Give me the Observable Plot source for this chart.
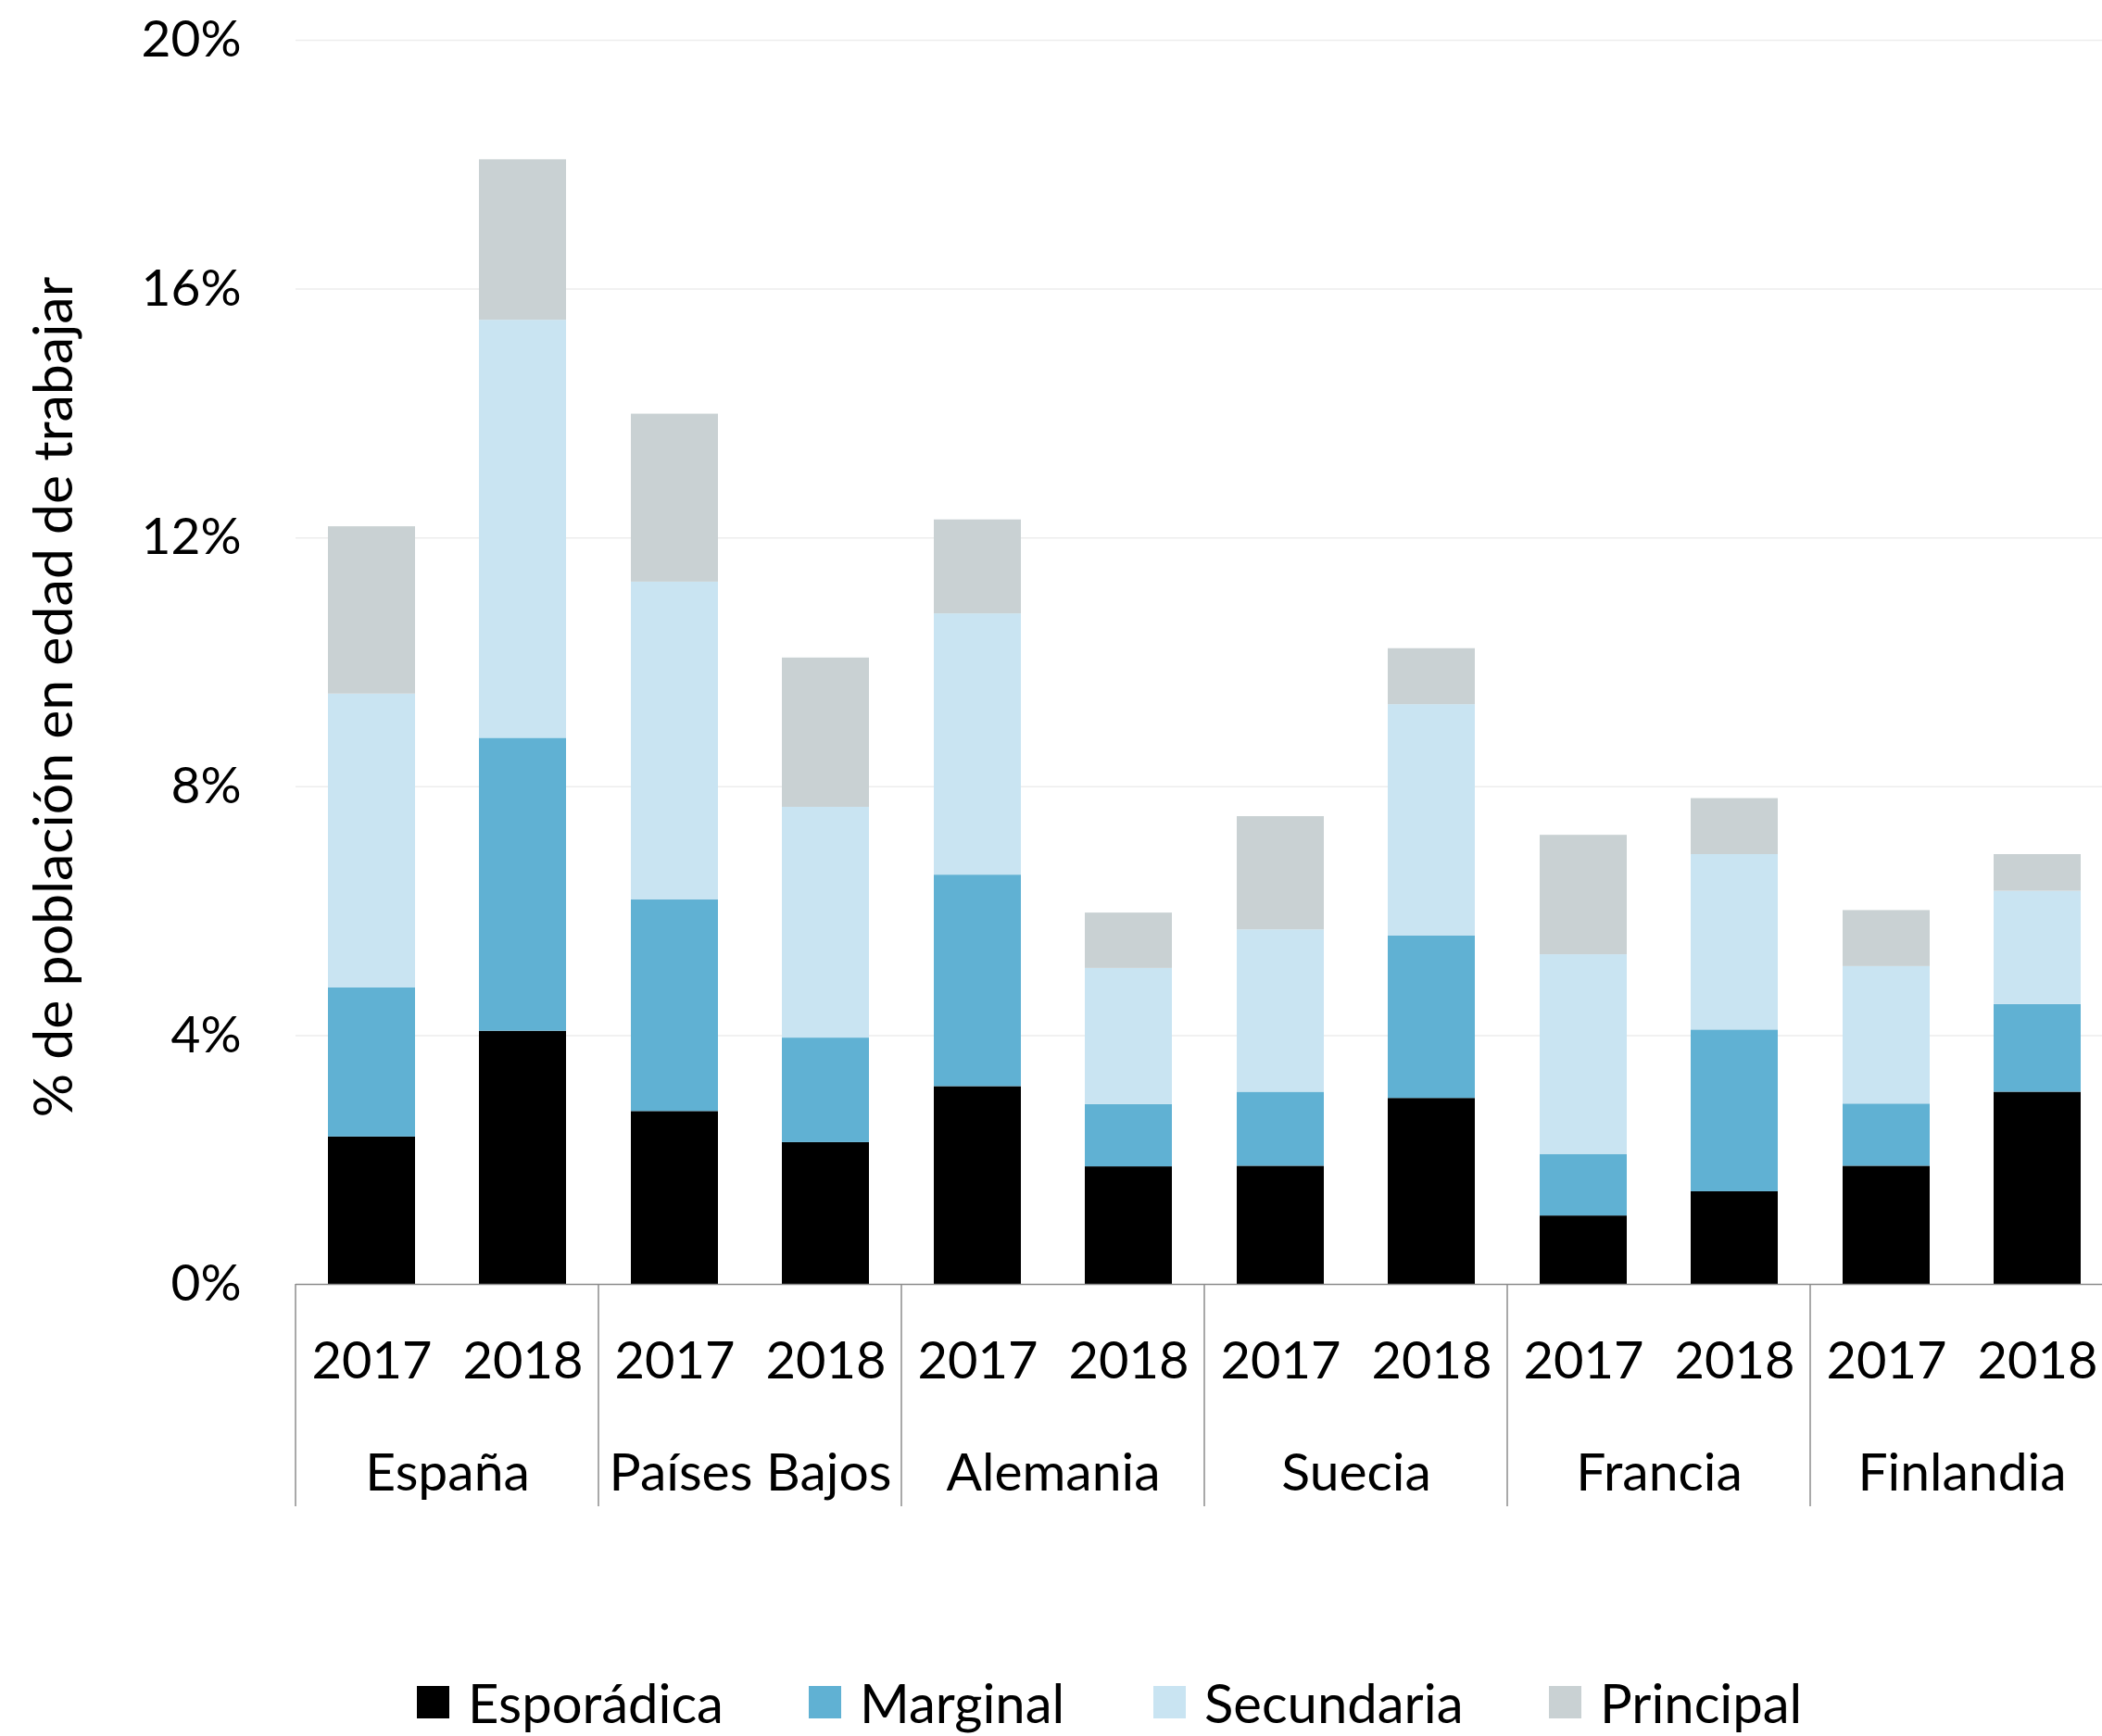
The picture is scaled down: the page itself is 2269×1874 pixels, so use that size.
<!DOCTYPE html>
<html><head><meta charset="utf-8">
<script src="https://cdn.jsdelivr.net/npm/d3@7"></script>
<script src="https://cdn.jsdelivr.net/npm/@observablehq/plot@0.6"></script>
<style>
body{margin:0;background:#fff;font-family:Lato,"Open Sans",sans-serif;font-weight:400;color:#000;}
#chart svg{display:block;}
#legend{position:relative;height:174px;width:2269px;}
#legend .row{position:absolute;top:120px;left:450px;display:flex;align-items:center;}
#legend .item{display:flex;align-items:center;gap:20px;font-size:58px;line-height:35px;}
#legend .sw{width:35px;height:35px;flex:none;}
</style></head><body>
<div id="chart"></div><div id="legend"></div>
<script>
const countries = ["España","Países Bajos","Alemania","Suecia","Francia","Finlandia"];
const years = ["2017","2018"];
const series = ["Esporádica","Marginal","Secundaria","Principal"];
const colors = ["#000000","#60b1d3","#c9e4f2","#c9d1d3"];
// values per bar: España 2017, España 2018, Países Bajos 2017, ... Finlandia 2018
const esporadica = [2.37,4.07,2.78,2.28,3.18,1.89,1.90,2.99,1.10,1.49,1.90,3.09];
const marginal   = [2.40,4.71,3.40,1.68,3.40,1.00,1.19,2.61,0.99,2.60,1.00,1.41];
const secundaria = [4.72,6.72,5.11,3.71,4.20,2.19,2.61,3.72,3.21,2.82,2.21,1.82];
const principal  = [2.69,2.58,2.70,2.40,1.51,0.89,1.82,0.90,1.92,0.90,0.90,0.59];
const yTicks = [0,4,8,12,16,20];
const yTitle = "% de población en edad de trabajar";

const seriesValues = [esporadica, marginal, secundaria, principal];
const data = [];
countries.forEach((c, ci) => years.forEach((yr, yi) => {
  const i = ci * 2 + yi;
  series.forEach((s, si) => data.push({country: c, year: yr, series: s, value: seriesValues[si][i]}));
}));

const FS = 56;
const plot = Plot.plot({
  width: 2269, height: 1700,
  marginTop: 43, marginBottom: 314, marginLeft: 318, marginRight: -12,
  style: {fontFamily: "Lato, 'Open Sans', sans-serif", fontSize: FS + "px", fontWeight: 400, color: "#000", background: "#fff", overflow: "visible"},
  fx: {domain: countries, padding: 0, label: null},
  x: {domain: years, paddingInner: 0.425, paddingOuter: 0.2125, label: null},
  y: {domain: [0, 20], label: null},
  color: {domain: series, range: colors},
  marks: [
    Plot.gridY(yTicks.slice(1), {stroke: "#ededed", strokeOpacity: 1, strokeWidth: 1.5}),
    Plot.barY(data, {fx: "country", x: "year", y: "value", fill: "series", order: series}),
    Plot.ruleY([0], {stroke: "#8c8c8c", strokeWidth: 1.5}),
    Plot.axisY({ticks: yTicks, tickFormat: d => d + "%", tickSize: 0, tickPadding: 59, label: null, fontSize: 55}),
    Plot.axisX({anchor: "bottom", tickSize: 0, tickPadding: 62, label: null, fontSize: FS}),
    Plot.axisFx({anchor: "bottom", tickSize: 0, tickPadding: 182, label: null, fontSize: FS + 1})
  ]
});
document.getElementById("chart").appendChild(plot);

// group separator lines from the fx scale
const svg = d3.select(plot);
const fx = plot.scale("fx"), y = plot.scale("y");
const y0 = y.apply(0);
const edges = countries.map(c => fx.apply(c)).concat([fx.apply(countries[countries.length-1]) + fx.bandwidth]);
svg.append("g").selectAll("line").data(edges).join("line")
  .attr("x1", d => d).attr("x2", d => d)
  .attr("y1", y0).attr("y2", y0 + 240)
  .attr("stroke", "#8c8c8c").attr("stroke-width", 1.5);

// y axis title
svg.append("text")
  .attr("transform", `translate(78,${(y0 + y.apply(20)) / 2 + 38}) rotate(-90)`)
  .attr("text-anchor", "middle")
  .attr("font-size", 59).attr("fill", "#000")
  .text(yTitle);

// legend
const widths = [423, 372, 427, null];
const row = d3.select("#legend").append("div").attr("class", "row");
series.forEach((s, i) => {
  const it = row.append("div").attr("class", "item");
  if (widths[i]) it.style("width", widths[i] + "px");
  it.append("div").attr("class", "sw").style("background", colors[i]);
  it.append("span").text(s);
});
</script></body></html>
